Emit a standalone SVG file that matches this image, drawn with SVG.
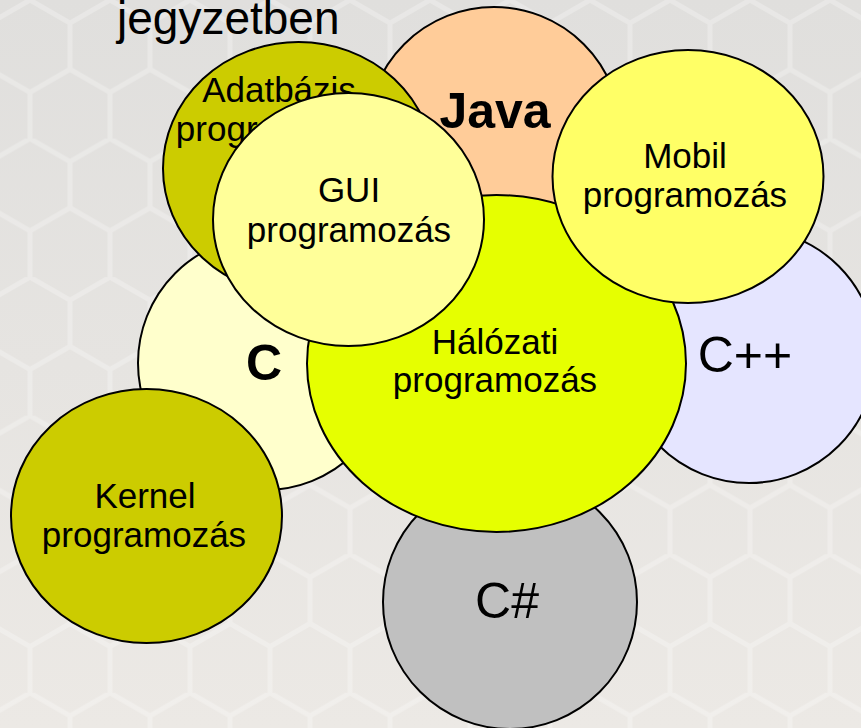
<svg xmlns="http://www.w3.org/2000/svg" width="861" height="728" viewBox="0 0 861 728">
  <defs>
    <pattern id="hex" x="-10" y="0" width="80" height="138.56" patternUnits="userSpaceOnUse">
      <path d="M40,0 L80,23.09 L80,69.28 L40,92.38 L0,69.28 L0,23.09 Z M40,92.38 L40,138.56" fill="none" stroke="#FFFFFF" stroke-opacity="0.25" stroke-width="5"/>
    </pattern>
    <linearGradient id="bg" x1="0" y1="0" x2="0" y2="1">
      <stop offset="0" stop-color="#E0DFDD"/>
      <stop offset="1" stop-color="#ECE9E5"/>
    </linearGradient>
  </defs>
  <style>
    .shape { stroke: #000000; stroke-width: 2; }
    .lbl { font-family: "Liberation Sans", Arial, sans-serif; font-size: 35px; fill: #000000; text-anchor: middle; }
    .big { font-family: "Liberation Sans", Arial, sans-serif; font-size: 50px; fill: #000000; text-anchor: middle; }
    .bold { font-weight: bold; }
  </style>
  <rect x="0" y="0" width="861" height="728" fill="url(#bg)"/>
  <rect x="0" y="0" width="861" height="728" fill="url(#hex)"/>
  <text x="117" y="34" font-family="Liberation Sans, Arial, sans-serif" font-size="46" fill="#000000">jegyzetben</text>

  <g id="java">
    <circle class="shape" cx="494" cy="134" r="127" fill="#FFCC99"/>
    <text class="big bold" x="495" y="128">Java</text>
  </g>
  <g id="c">
    <circle class="shape" cx="265" cy="363" r="127" fill="#FFFFCC"/>
    <text class="big bold" x="264" y="380">C</text>
  </g>
  <g id="cpp">
    <circle class="shape" cx="749" cy="356" r="127" fill="#E5E5FF"/>
    <text class="big" x="745" y="372">C++</text>
  </g>
  <g id="csharp">
    <circle class="shape" cx="510" cy="602" r="127" fill="#C0C0C0"/>
    <text class="big" x="507" y="618">C#</text>
  </g>
  <g id="adatbazis">
    <ellipse class="shape" cx="298.5" cy="168.5" rx="135.5" ry="126.5" fill="#CCCC00"/>
    <text class="lbl" x="279" y="102">Adatbázis</text>
    <text class="lbl" x="278" y="141">programozás</text>
  </g>
  <g id="kernel">
    <ellipse class="shape" cx="146.5" cy="516" rx="135.5" ry="127" fill="#CCCC00"/>
    <text class="lbl" x="145" y="508">Kernel</text>
    <text class="lbl" x="144" y="547">programozás</text>
  </g>
  <g id="halozati">
    <ellipse class="shape" cx="496.5" cy="363.5" rx="189.5" ry="168.5" fill="#E6FF00"/>
    <text class="lbl" x="495" y="354">Hálózati</text>
    <text class="lbl" x="495" y="392">programozás</text>
  </g>
  <g id="gui">
    <ellipse class="shape" cx="348.5" cy="219.5" rx="135.5" ry="126.5" fill="#FFFF99"/>
    <text class="lbl" x="349" y="202">GUI</text>
    <text class="lbl" x="349" y="242">programozás</text>
  </g>
  <g id="mobil">
    <ellipse class="shape" cx="688" cy="176.5" rx="135.5" ry="126.5" fill="#FFFF66"/>
    <text class="lbl" x="685" y="168">Mobil</text>
    <text class="lbl" x="685" y="207">programozás</text>
  </g>
  <g id="connectors"/>
</svg>
